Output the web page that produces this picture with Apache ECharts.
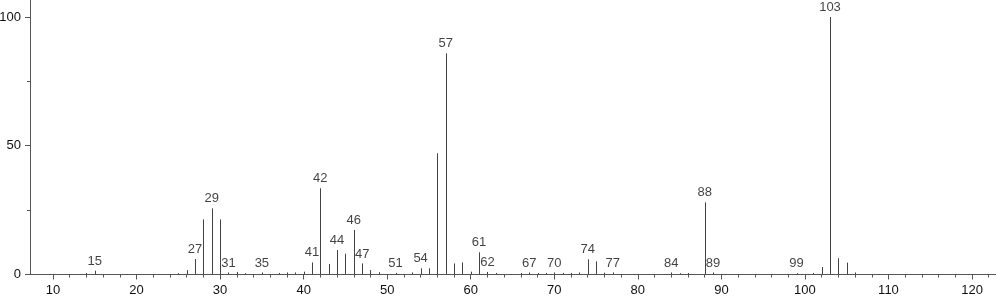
<!DOCTYPE html>
<html>
<head>
<meta charset="utf-8">
<script src="https://cdn.jsdelivr.net/npm/echarts@6/dist/echarts.min.js"></script>
<style>html,body{margin:0;padding:0;background:#fff}#c{width:996px;height:299px}</style>
</head>
<body>
<div id="c"></div>
<script>
const mz = [14,15,25,26,27,28,29,30,31,32,33,35,37,38,39,40,41,42,43,44,45,46,47,48,49,51,53,54,55,56,57,58,59,60,61,62,63,66,67,68,69,70,71,72,73,74,75,76,77,84,85,86,88,89,99,101,102,103,104,105,106];
const intensity = [0.6,1.5,0.5,1.7,6.0,21.4,25.7,21.4,0.8,1.0,0.5,0.8,0.6,0.8,0.8,1.1,4.7,33.5,4.1,9.5,8.1,17.3,4.3,1.7,0.9,0.6,0.8,2.4,2.4,47.1,85.9,4.3,4.7,1.1,8.6,1.0,0.6,0.6,0.8,0.6,0.6,0.8,0.6,0.6,0.8,5.9,5.1,0.7,0.8,0.8,0.5,0.6,28.0,0.8,0.5,0.6,2.9,100,6.3,4.6,0.8];
const labeledPeaks = [15,27,29,31,35,41,42,44,46,47,51,54,57,61,62,67,70,74,77,84,88,89,99,103];
const xMajorTicks = [10,20,30,40,50,60,70,80,90,100,110,120];
const xMinorTicks = [10,12,14,16,18,20,22,24,26,28,30,32,34,36,38,40,42,44,46,48,50,52,54,56,58,60,62,64,66,68,70,72,74,76,78,80,82,84,86,88,90,92,94,96,98,100,102,104,106,108,110,112,114,116,118,120,122];
const yMajorTicks = [0,50,100];
const yMinorTicks = [25,75];

const stickData = mz.map((m, i) => [m, intensity[i]]);
const labelData = labeledPeaks.map(m => [m, intensity[mz.indexOf(m)]]);

const font = 'Liberation Sans, Arial, sans-serif';
const axisColor = '#555';
const textColor = '#111';
const xMin = 7.247, xMax = 122.87, yMax = 106.6;

const chart = echarts.init(document.getElementById('c'), null, { renderer: 'canvas' });
chart.setOption({
  animation: false,
  grid: { left: 30, right: 0, top: 0, bottom: 24.5, containLabel: false, outerBoundsMode: 'none' },
  xAxis: [
    {
      type: 'value', min: xMin, max: xMax, position: 'bottom',
      axisLine: { show: true, lineStyle: { color: axisColor, width: 1 } },
      axisTick: { show: true, length: 5, customValues: xMajorTicks, lineStyle: { color: axisColor } },
      axisLabel: { show: true, customValues: xMajorTicks, margin: 9, fontSize: 13, color: textColor, fontFamily: font },
      splitLine: { show: false }
    },
    {
      type: 'value', min: xMin, max: xMax, position: 'bottom', offset: 0,
      axisLine: { show: false },
      axisTick: { show: true, length: 3, customValues: xMinorTicks, lineStyle: { color: axisColor } },
      axisLabel: { show: false },
      splitLine: { show: false }
    }
  ],
  yAxis: [
    {
      type: 'value', min: 0, max: yMax, position: 'left',
      axisLine: { show: true, lineStyle: { color: axisColor, width: 1 } },
      axisTick: { show: true, length: 5, customValues: yMajorTicks, lineStyle: { color: axisColor } },
      axisLabel: { show: true, customValues: yMajorTicks, margin: 9, fontSize: 13, color: textColor, fontFamily: font },
      splitLine: { show: false }
    },
    {
      type: 'value', min: 0, max: yMax, position: 'left', offset: 0,
      axisLine: { show: false },
      axisTick: { show: true, length: 3, customValues: yMinorTicks, lineStyle: { color: axisColor } },
      axisLabel: { show: false },
      splitLine: { show: false }
    }
  ],
  series: [
    {
      type: 'custom',
      xAxisIndex: 0, yAxisIndex: 0,
      renderItem: (params, api) => {
        const p0 = api.coord([api.value(0), 0]);
        const p1 = api.coord([api.value(0), api.value(1)]);
        const x = Math.round(p0[0]) + 0.5;
        return {
          type: 'line',
          shape: { x1: x, y1: p0[1], x2: x, y2: p1[1] },
          style: { stroke: '#444', lineWidth: 1 }
        };
      },
      encode: { x: 0, y: 1 },
      data: stickData,
      z: 3
    },
    {
      type: 'scatter',
      xAxisIndex: 0, yAxisIndex: 0,
      symbolSize: 0,
      label: {
        show: true, position: 'top', distance: 3, fontSize: 13, color: textColor, fontFamily: font,
        formatter: p => String(p.value[0])
      },
      data: labelData,
      z: 4
    }
  ]
});
</script>
</body>
</html>
